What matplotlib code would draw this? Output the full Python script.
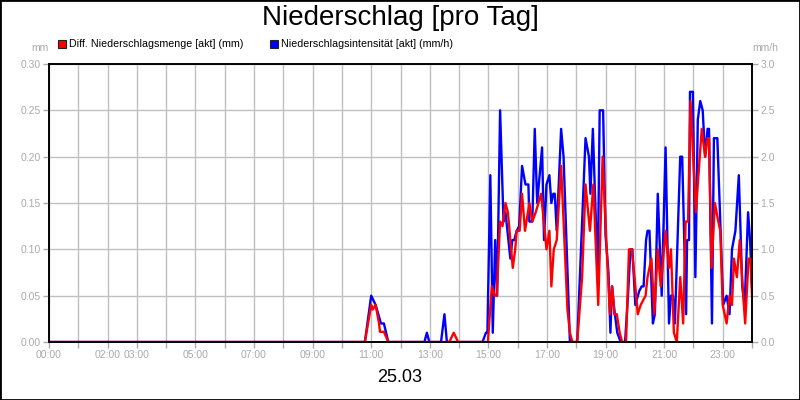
import numpy as np
import matplotlib
matplotlib.use('Agg')
from matplotlib import pyplot as plt
from matplotlib.patches import Rectangle

plt.rcParams['font.family'] = ['Liberation Sans', 'DejaVu Sans']

# Niederschlagsintensitaet [akt] (mm/h) - minutes since midnight
blue_min = [0, 647, 660, 669, 680, 686, 695, 769, 774, 779, 803, 810, 815,
            888, 895, 898, 904, 909, 914, 918, 924, 931, 935, 940, 945, 949,
            953, 958, 963, 969, 976, 982, 984, 990, 995, 1000, 1010, 1014,
            1019, 1025, 1029, 1033, 1036, 1040, 1049, 1054, 1067, 1082, 1099,
            1106, 1109, 1114, 1124, 1128, 1135, 1140, 1146, 1150, 1153, 1158,
            1164, 1171, 1180, 1186, 1191, 1195, 1201, 1209, 1214, 1218, 1223,
            1226, 1230, 1237, 1241, 1247, 1255, 1263, 1270, 1274, 1278, 1282,
            1293, 1297, 1305, 1307, 1311, 1313, 1319, 1324, 1329, 1334, 1339,
            1344, 1349, 1352, 1358, 1362, 1369, 1381, 1388, 1394, 1399, 1406,
            1413, 1420, 1425, 1432, 1436, 1440]
blue_val = [0, 0, 0.5, 0.4, 0.2, 0.2, 0, 0, 0.1, 0, 0, 0.3, 0,
            0, 0.1, 0.1, 1.8, 0.1, 1.1, 0.5, 2.5, 1.3, 1.4, 1.15, 0.9, 1.1,
            1.1, 1.2, 1.25, 1.9, 1.7, 1.7, 1.3, 1.3, 2.3, 1.5, 2.1, 1.1,
            1.7, 1.8, 1.5, 1.6, 1.6, 1.2, 2.3, 2.0, 0, 0, 2.2,
            2.0, 1.6, 2.3, 0.7, 2.5, 2.5, 1.15, 0.75, 0.1, 0.6, 0.35,
            0.1, 0, 0, 0.5, 1.0, 1.0, 0.4, 0.55, 0.6, 0.6, 1.1,
            1.2, 1.2, 0.2, 0.3, 1.6, 0.5, 2.1, 0.2, 0.5, 0.5, 0.2,
            2.0, 2.0, 0.3, 1.1, 1.1, 2.7, 2.7, 0.7, 2.4, 2.6, 2.5,
            2.0, 2.3, 2.3, 0.2, 2.2, 2.2, 0.4, 0.5, 0.3, 1.0, 1.2,
            1.8, 0.6, 0.4, 1.4, 1.1, 0.6]

# Diff. Niederschlagsmenge [akt] (mm)
red_min = [0, 647, 660, 663, 669, 676, 678, 686, 695, 820, 829, 838,
           899, 907, 913, 917, 924, 929, 935, 940, 945, 950, 955, 958, 964,
           969, 975, 984, 990, 997, 1008, 1019, 1025, 1029, 1034, 1040, 1049,
           1062, 1067, 1072, 1082, 1092, 1099, 1108, 1115, 1125, 1134, 1142,
           1149, 1154, 1158, 1163, 1169, 1174, 1182, 1188, 1194, 1201, 1206,
           1212, 1222, 1226, 1234, 1240, 1247, 1253, 1263, 1270, 1274, 1280,
           1286, 1293, 1299, 1304, 1309, 1314, 1325, 1337, 1344, 1349, 1352,
           1357, 1364, 1371, 1375, 1380, 1388, 1394, 1399, 1403, 1409, 1415,
           1422, 1426, 1433, 1437, 1440]
red_val = [0, 0, 0.04, 0.035, 0.04, 0.02, 0.011, 0.011, 0, 0, 0.01, 0,
           0, 0.06, 0.05, 0.05, 0.13, 0.125, 0.15, 0.14, 0.11, 0.08, 0.10, 0.12, 0.12,
           0.16, 0.12, 0.15, 0.13, 0.14, 0.16, 0.10, 0.12, 0.06, 0.10, 0.11, 0.19,
           0.035, 0.01, 0, 0, 0.07, 0.17, 0.12, 0.17, 0.04, 0.20, 0.105,
           0.03, 0.06, 0.03, 0.03, 0.01, 0, 0, 0.10, 0.10, 0.06, 0.03,
           0.04, 0.05, 0.07, 0.09, 0.03, 0.10, 0.06, 0.12, 0.08, 0.10, 0.01,
           0, 0.07, 0.02, 0.13, 0.13, 0.26, 0.14, 0.23, 0.20, 0.22, 0.22,
           0.08, 0.15, 0.13, 0.12, 0.04, 0.02, 0.05, 0.04, 0.09, 0.07, 0.11,
           0.05, 0.02, 0.09, 0.09, 0.05]

# x labels (hour position -> text)
label_hours = [0, 2, 3, 5, 7, 9, 11, 13, 15, 17, 19, 21, 23]
label_text = ['00:00', '02:00', '03:00', '05:00', '07:00', '09:00', '11:00',
              '13:00', '15:00', '17:00', '19:00', '21:00', '23:00']

GRAY = '#aaaaaa'

fig = plt.figure(figsize=(8, 4), dpi=100)
ax = fig.add_axes([49/800, 58/400, 703/800, 278/400])
axr = ax.twinx()
ax.set_zorder(2)
axr.set_zorder(1)
ax.patch.set_visible(False)

axr.plot(np.array(blue_min), blue_val, color='#0000ff', lw=1.7)
ax.plot(np.array(red_min), red_val, color='#ff0000', lw=1.7)

ax.set_xlim(0, 1440)
ax.set_ylim(0, 0.30)
axr.set_ylim(0, 3.0)

xt = np.arange(0, 1441, 60)
ax.set_xticks(xt)
labs = []
for h in range(25):
    labs.append(label_text[label_hours.index(h)] if h in label_hours else '')
ax.set_xticklabels(labs)

ax.set_yticks(np.arange(0, 0.301, 0.05))
ax.set_yticklabels(['%.2f' % v for v in np.arange(0, 0.301, 0.05)])
axr.set_yticks(np.arange(0, 3.01, 0.5))
axr.set_yticklabels(['%.1f' % v for v in np.arange(0, 3.01, 0.5)])

for a in (ax, axr):
    a.tick_params(axis='both', direction='out', length=4, width=1, color=GRAY,
                  labelcolor=GRAY, labelsize=7.5, pad=2)
    for s in a.spines.values():
        s.set_color('black')
        s.set_linewidth(1.2)

# grid drawn behind the blue line on the twin axes
axr.xaxis.set_visible(True)
axr.tick_params(axis='x', bottom=False, top=False, labelbottom=False, labeltop=False)
axr.grid(True, color='#c0c0c0', lw=1)
axr.set_axisbelow(True)

# axis unit labels
fig.text(40/800, 1 - 48/400, 'mm', color=GRAY, fontsize=7.5, ha='center', va='center')
fig.text(765/800, 1 - 48/400, 'mm/h', color=GRAY, fontsize=7.5, ha='center', va='center')

# title and date
fig.text(0.5, 1 - 18/400, 'Niederschlag [pro Tag]', fontsize=20, ha='center', va='center')
fig.text(0.5, 1 - 378/400, '25.03', fontsize=13, ha='center', va='center')

# legend
for x0, col, txt in [(58, '#ff0000', 'Diff. Niederschlagsmenge [akt] (mm)'),
                     (270, '#0000ff', 'Niederschlagsintensität [akt] (mm/h)')]:
    fig.add_artist(Rectangle((x0/800, 1 - 48/400), 8/800, 8/400, transform=fig.transFigure,
                             facecolor=col, edgecolor='#222222', lw=0.8))
    fig.text((x0 + 11)/800, 1 - 44/400, txt, fontsize=7.7, ha='left', va='center')

# outer border
fig.add_artist(Rectangle((0, 0), 1, 1, transform=fig.transFigure, fill=False,
                         edgecolor='black', lw=2))

plt.savefig('out.png', dpi=100)
